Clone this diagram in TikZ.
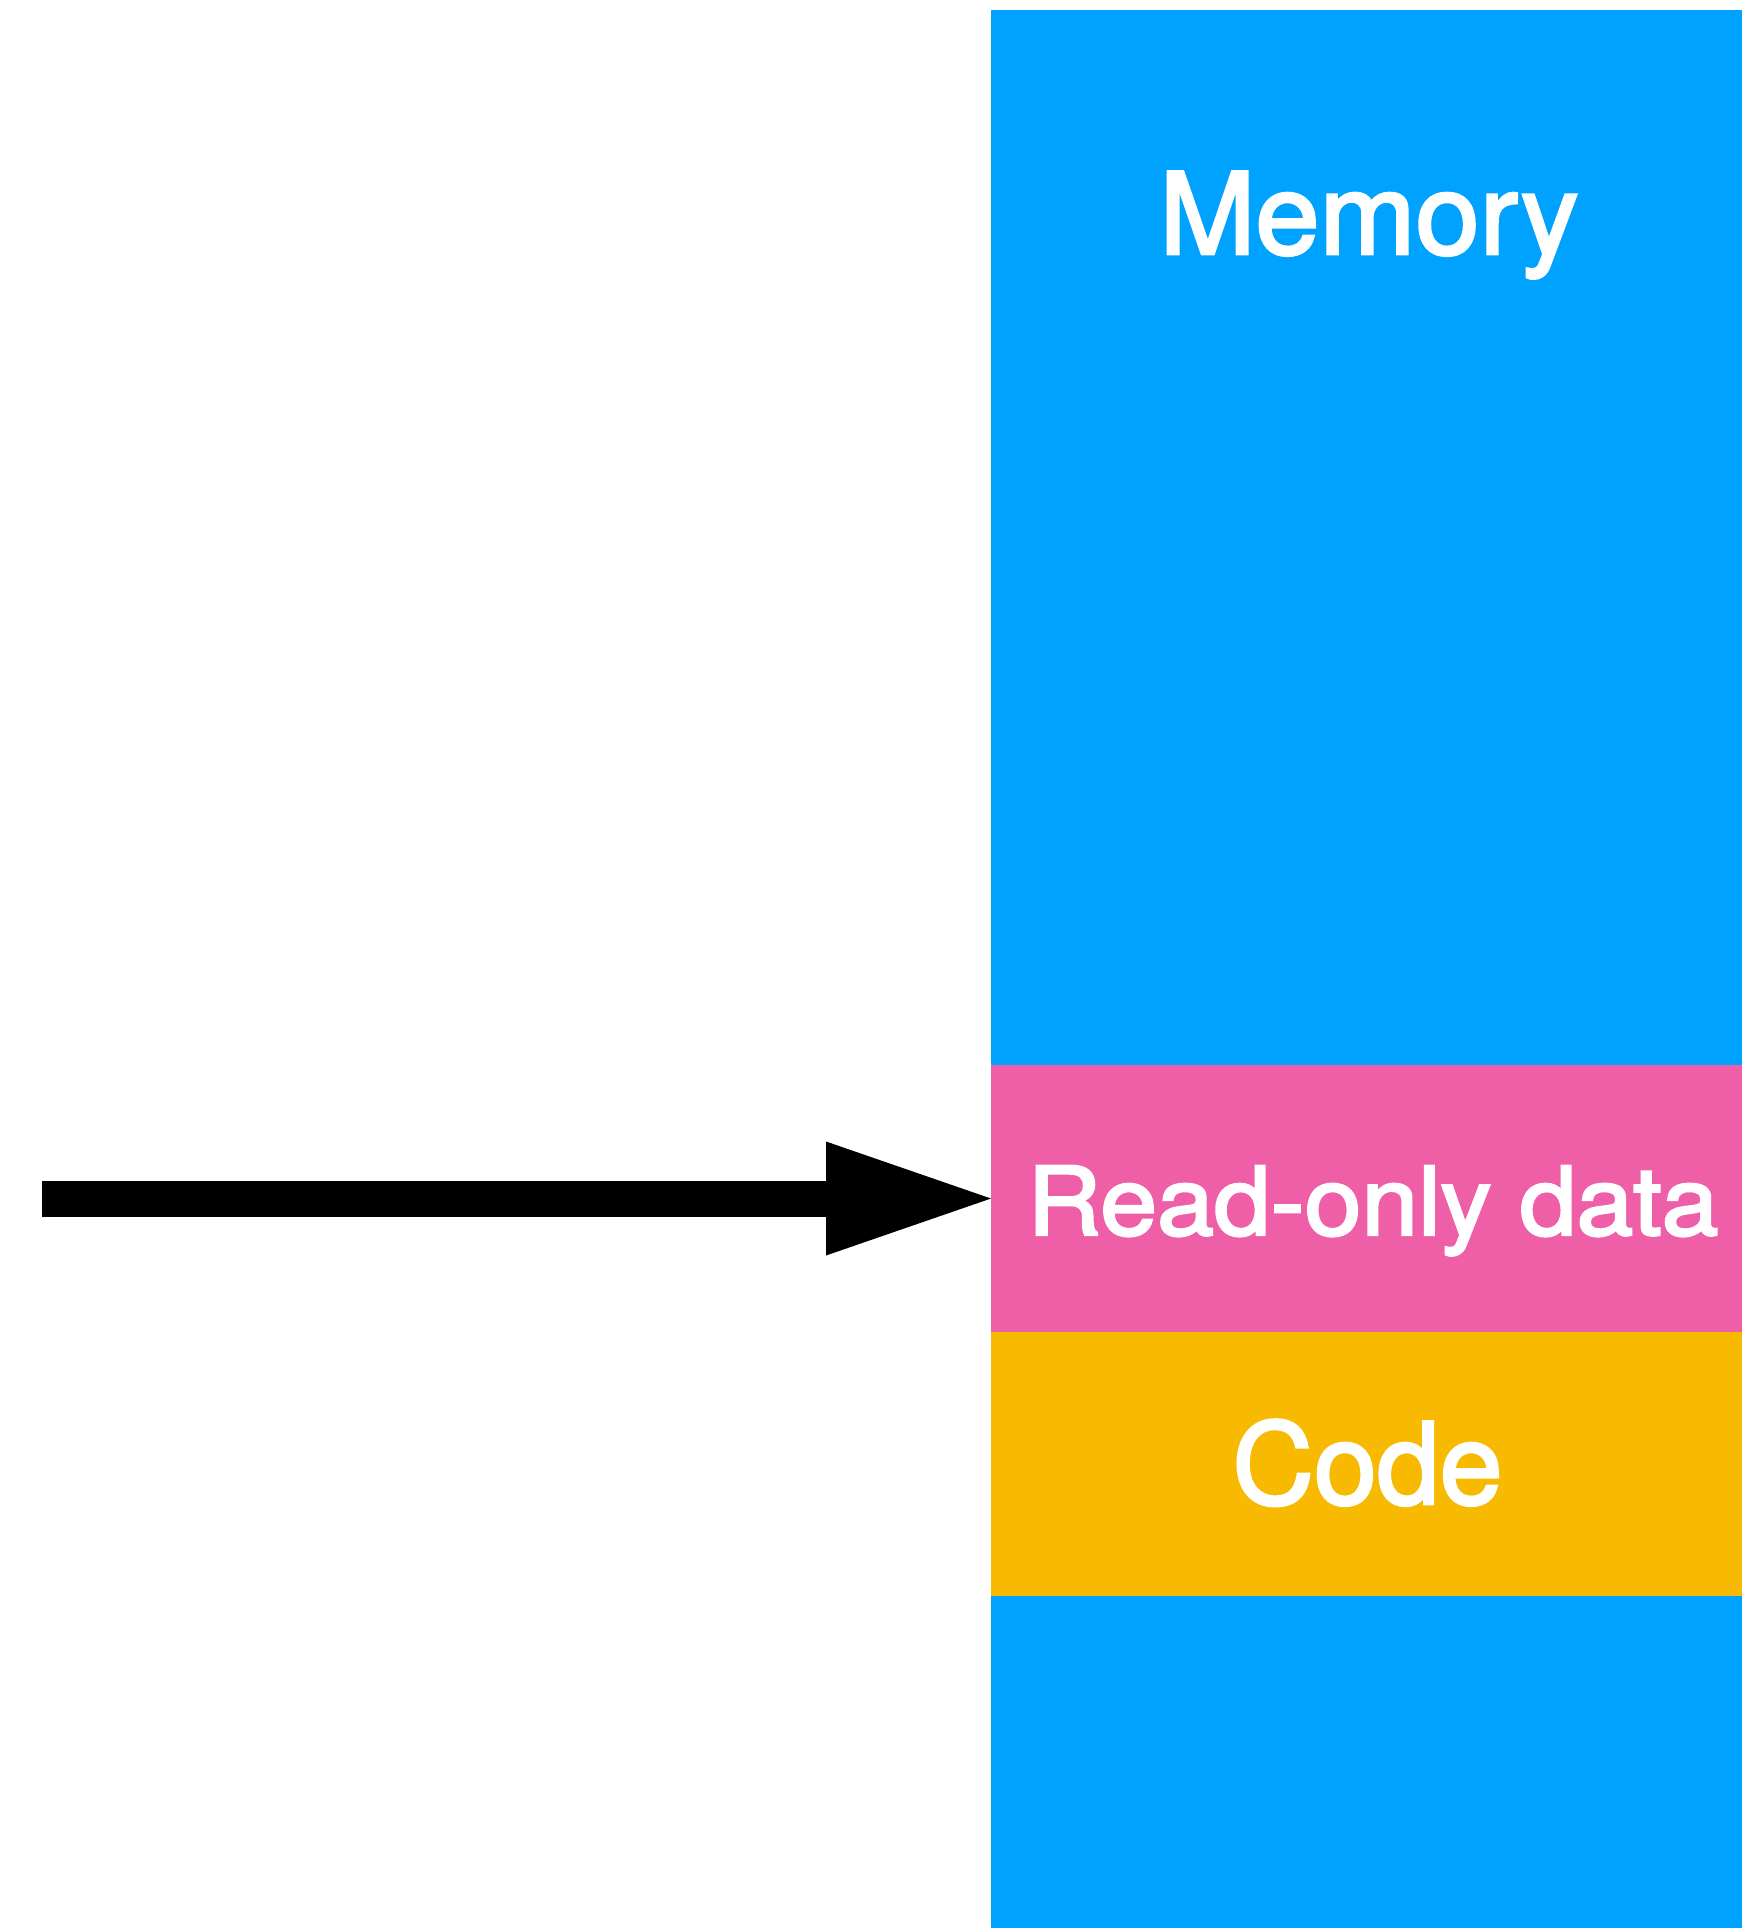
\documentclass[tikz,border=0pt]{standalone}
\usepackage{fontspec}
\setmainfont{TeX Gyre Heros}
\newfontface\medfont{TeX Gyre Heros}[FakeBold=2.5]
\usetikzlibrary{arrows.meta}
\definecolor{memblue}{RGB}{0,162,255}
\definecolor{ropink}{RGB}{239,95,167}
\definecolor{codeyellow}{RGB}{248,186,0}
\tikzset{
  region/.style={inner sep=0pt, outer sep=0pt, draw=none, minimum width=751pt, anchor=north west},
  label/.style={text=white, inner sep=0pt, anchor=base, font=\fontsize{113}{120}\medfont},
  bigarrow/.style={line width=36pt, line cap=butt, -{Triangle[length=165pt,width=114pt,line width=0pt]}}
}
\begin{document}
\begin{tikzpicture}[x=1pt,y=-1pt]
\useasboundingbox (0,0) rectangle (1753,1928);
\fill[white] (0,0) rectangle (1753,1928);
\node[region, fill=memblue, minimum height=1918pt] (mem) at (991,10) {};
\node[region, fill=ropink, minimum height=267pt] (ro) at (991,1065) {};
\node[region, fill=codeyellow, minimum height=264pt] (code) at (991,1332) {};
\node[label] (memtxt) at (1369,254) {\scalebox{1.02}[1]{Memory}};
\node[label, font=\fontsize{95}{110}\medfont] (rotxt) at (1373,1235) {\scalebox{1.075}[1]{Read-only data}};
\node[label] (codetxt) at (1367.5,1504) {Code};
\coordinate (start) at (42,1198.5);
\draw[bigarrow] (start) -- (ro.west);
\end{tikzpicture}
\end{document}
